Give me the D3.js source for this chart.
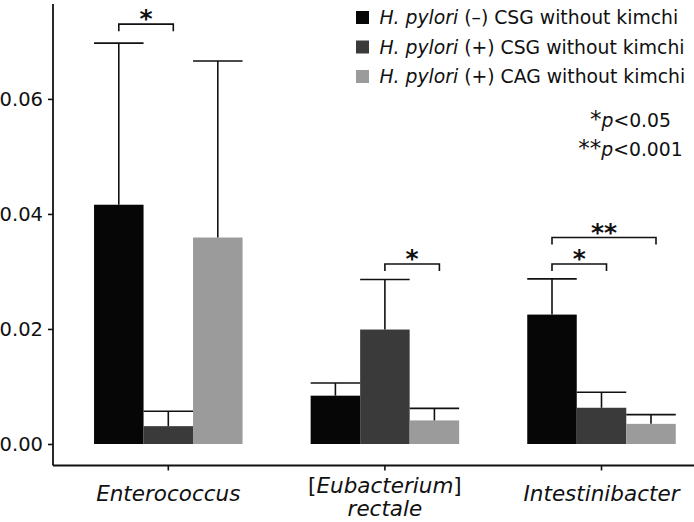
<!DOCTYPE html>
<html>
<head>
<meta charset="utf-8">
<script src="https://cdn.jsdelivr.net/npm/d3@7"></script>
<style>
  html, body { margin: 0; padding: 0; background: #fff; }
  svg { display: block; font-family: "DejaVu Sans", Verdana, sans-serif; }
</style>
</head>
<body>
<svg id="chart" width="694" height="522"></svg>
<script>
// ---------- data ----------
const categories = ["Enterococcus", "[Eubacterium] rectale", "Intestinibacter"];
const seriesNames = [
  "H. pylori (\u2013) CSG without kimchi",
  "H. pylori (+) CSG without kimchi",
  "H. pylori (+) CAG without kimchi"
];
const seriesColors = ["#060606", "#3a3a3a", "#9b9b9b"];
// mean values per category, one array per series
const meanNeg = [0.0416, 0.0084, 0.0225];
const meanPosCSG = [0.0031, 0.0199, 0.0063];
const meanPosCAG = [0.0359, 0.0041, 0.0035];
// upper error bar ends (mean + error)
const upperNeg = [0.0697, 0.0106, 0.0287];
const upperPosCSG = [0.0057, 0.0286, 0.0090];
const upperPosCAG = [0.0666, 0.0062, 0.0051];
const yTicks = [0.00, 0.02, 0.04, 0.06];
const yDomain = [-0.00374, 0.0765];
// significance annotations: category index, series from, series to, level (data units), label
const sigCat = [0, 1, 2, 2];
const sigFrom = [0, 1, 0, 0];
const sigTo = [1, 2, 1, 2];
const sigLevel = [0.0730, 0.0313, 0.0313, 0.0359];
const sigLabel = ["*", "*", "*", "**"];

// ---------- layout ----------
const W = 694, H = 522;
const axisX = 53, axisY = 465.5;
const svg = d3.select("#chart");

const y = d3.scaleLinear().domain(yDomain).range([axisY, 4]);
const x0 = d3.scaleBand().domain(categories).range([60, 709.8])
  .paddingInner(0.3144).paddingOuter(0.1572);
const x1 = d3.scaleBand().domain([0, 1, 2]).range([0, x0.bandwidth()]).padding(0);

const means = [meanNeg, meanPosCSG, meanPosCAG];
const uppers = [upperNeg, upperPosCSG, upperPosCAG];
const rows = [];
categories.forEach((c, ci) => {
  for (let s = 0; s < 3; s++) rows.push({ c, ci, s, v: means[s][ci], u: uppers[s][ci] });
});

// bars
svg.append("g").selectAll("rect").data(rows).join("rect")
  .attr("x", d => x0(d.c) + x1(d.s))
  .attr("width", x1.bandwidth())
  .attr("y", d => y(d.v))
  .attr("height", d => y(0) - y(d.v))
  .attr("fill", d => seriesColors[d.s]);

// error bars
const eb = svg.append("g").attr("stroke", "#111").attr("stroke-width", 1.6).attr("fill", "none");
rows.forEach(d => {
  const cx = x0(d.c) + x1(d.s) + x1.bandwidth() / 2;
  eb.append("line").attr("x1", cx).attr("x2", cx).attr("y1", y(d.v)).attr("y2", y(d.u));
  eb.append("line").attr("x1", x0(d.c) + x1(d.s)).attr("x2", x0(d.c) + x1(d.s) + x1.bandwidth())
    .attr("y1", y(d.u)).attr("y2", y(d.u));
});

// significance brackets
const sg = svg.append("g");
sigCat.forEach((ci, i) => {
  const c = categories[ci];
  const xa = x0(c) + x1(sigFrom[i]) + x1.bandwidth() / 2;
  const xb = x0(c) + x1(sigTo[i]) + x1.bandwidth() / 2 + 5;
  const yy = y(sigLevel[i]);
  sg.append("path")
    .attr("d", `M${xa},${yy + 7}V${yy}H${xb}V${yy + 7}`)
    .attr("fill", "none").attr("stroke", "#111").attr("stroke-width", 1.6);
  sg.append("text")
    .attr("x", (xa + xb) / 2).attr("y", yy + 3)
    .attr("text-anchor", "middle")
    .attr("font-size", 25).attr("font-weight", "bold")
    .attr("fill", "#111")
    .text(sigLabel[i]);
});

// y axis
const yAxis = svg.append("g").attr("transform", `translate(${axisX},0)`)
  .call(d3.axisLeft(y).tickValues(yTicks).tickFormat(d3.format(".2f")).tickSize(5).tickPadding(5));
yAxis.select(".domain").remove();
yAxis.append("line").attr("x1", 0).attr("x2", 0).attr("y1", 4).attr("y2", axisY)
  .attr("stroke", "#111").attr("stroke-width", 1.8);
yAxis.selectAll(".tick line").attr("stroke", "#111").attr("stroke-width", 1.6);
yAxis.selectAll(".tick text").attr("font-size", 19.5).attr("fill", "#111")
  .attr("font-family", "DejaVu Sans, Verdana, sans-serif");

// x axis
const xAxis = svg.append("g").attr("transform", `translate(0,${axisY})`)
  .call(d3.axisBottom(x0).tickSize(5).tickFormat(""));
xAxis.select(".domain").remove();
xAxis.append("line").attr("x1", axisX).attr("x2", W).attr("y1", 0).attr("y2", 0)
  .attr("stroke", "#111").attr("stroke-width", 1.8);
xAxis.selectAll(".tick line").attr("stroke", "#111").attr("stroke-width", 1.6);

// x labels
const xl = svg.append("g").attr("font-size", 21.5).attr("fill", "#111");
categories.forEach(c => {
  const cx = x0(c) + x0.bandwidth() / 2;
  if (c.startsWith("[")) {
    const m = c.match(/^\[(.+)\]\s+(.+)$/);
    const t1 = xl.append("text").attr("x", cx).attr("y", 493).attr("text-anchor", "middle");
    t1.append("tspan").text("[");
    t1.append("tspan").attr("font-style", "italic").text(m[1]);
    t1.append("tspan").text("]");
    xl.append("text").attr("x", cx).attr("y", 516).attr("text-anchor", "middle")
      .attr("font-style", "italic").text(m[2]);
  } else {
    xl.append("text").attr("x", cx).attr("y", 501).attr("text-anchor", "middle")
      .attr("font-style", "italic").text(c);
  }
});

// legend
const lg = svg.append("g").attr("font-size", 18.8).attr("fill", "#111");
seriesNames.forEach((name, i) => {
  const base = 24 + i * 29.5;
  lg.append("rect").attr("x", 356).attr("y", base - 13).attr("width", 13).attr("height", 13)
    .attr("fill", seriesColors[i]);
  const t = lg.append("text").attr("x", 379.5).attr("y", base);
  const k = name.indexOf(" (");
  t.append("tspan").attr("font-style", "italic").text(name.slice(0, k));
  t.append("tspan").text(name.slice(k));
});

// p-value notes
const pNotes = [["*", "<0.05"], ["**", "<0.001"]];
pNotes.forEach((p, i) => {
  const t = lg.append("text").attr("x", 630.5).attr("y", 127 + i * 28.5).attr("text-anchor", "middle");
  t.append("tspan").attr("font-size", 23).text(p[0]);
  t.append("tspan").attr("font-style", "italic").text("p");
  t.append("tspan").text(p[1]);
});
</script>
</body>
</html>
